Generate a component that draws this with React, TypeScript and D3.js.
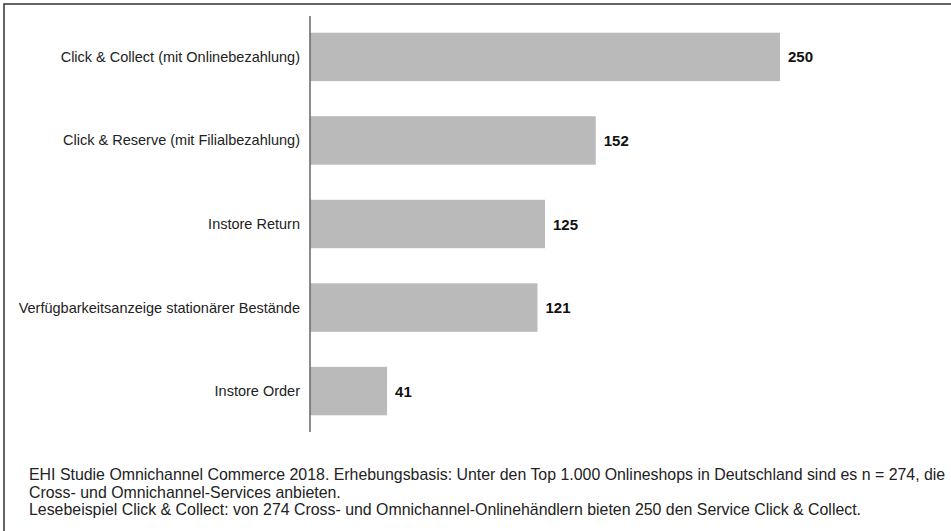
import React from "react";
import * as d3 from "d3";

const categories = [
  "Click & Collect (mit Onlinebezahlung)",
  "Click & Reserve (mit Filialbezahlung)",
  "Instore Return",
  "Verfügbarkeitsanzeige stationärer Bestände",
  "Instore Order",
];
const values = [250, 152, 125, 121, 41];
const footnoteLines = [
  "EHI Studie Omnichannel Commerce 2018. Erhebungsbasis: Unter den Top 1.000 Onlineshops in Deutschland sind es n = 274, die",
  "Cross- und Omnichannel-Services anbieten.",
  "Lesebeispiel Click & Collect: von 274 Cross- und Omnichannel-Onlinehändlern bieten 250 den Service Click & Collect.",
];

const W = 951;
const H = 531;
const FONT = "'Liberation Sans', Arial, sans-serif";

export default function App() {
  const axisX = 310;
  const axisTop = 16;
  const axisBottom = 432;

  const x = d3.scaleLinear().domain([0, 250]).range([axisX, axisX + 470]);
  const y = d3
    .scaleBand<string>()
    .domain(categories)
    .range([axisTop, axisBottom])
    .paddingInner(0.42)
    .paddingOuter(0.2);

  return (
    <div style={{ position: "fixed", left: 0, top: 0, width: W, height: H, background: "#fff" }}>
      <svg width={W} height={H} style={{ display: "block" }} fontFamily={FONT}>
        <rect x={4} y={4} width={980} height={560} fill="none" stroke="#333" strokeWidth={1.5} />
        {categories.map((c, i) => {
          const yy = y(c)!;
          const bw = y.bandwidth();
          return (
            <g key={c}>
              <rect x={x(0)} y={yy} width={x(values[i]) - x(0)} height={bw} fill="#bababa" />
              <text
                x={300}
                y={yy + bw / 2}
                textAnchor="end"
                dominantBaseline="central"
                fontSize={14.5}
                fill="#222"
              >
                {c}
              </text>
              <text
                x={x(values[i]) + 8}
                y={yy + bw / 2}
                dominantBaseline="central"
                fontSize={15}
                fontWeight="bold"
                fill="#111"
              >
                {values[i]}
              </text>
            </g>
          );
        })}
        <line x1={axisX} x2={axisX} y1={axisTop} y2={axisBottom} stroke="#666" strokeWidth={1.5} />
        {footnoteLines.map((t, i) => (
          <text key={i} x={29} y={480 + i * 17.5} fontSize={15.9} fill="#222">
            {t}
          </text>
        ))}
      </svg>
    </div>
  );
}
